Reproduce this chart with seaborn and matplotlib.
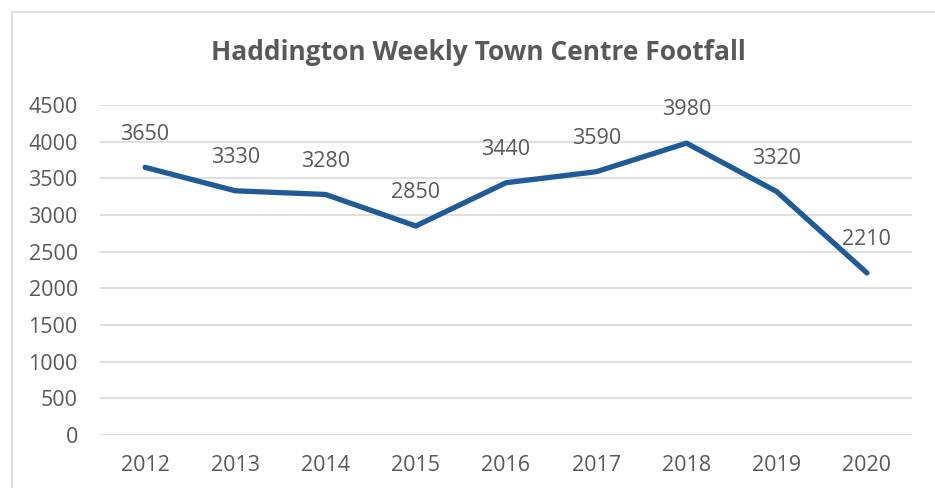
import pandas as pd
import matplotlib.pyplot as plt
import seaborn as sns
from matplotlib.patches import Rectangle

years = ["2012", "2013", "2014", "2015", "2016", "2017", "2018", "2019", "2020"]
footfall = [3650, 3330, 3280, 2850, 3440, 3590, 3980, 3320, 2210]
y_ticks = [0, 500, 1000, 1500, 2000, 2500, 3000, 3500, 4000, 4500]

df = pd.DataFrame({"year": years, "footfall": footfall})

sns.set_theme(style="white")
plt.rcParams['font.family'] = ['Open Sans', 'DejaVu Sans']
text_col = "#595959"
grid_col = "#d9d9d9"
line_col = "#1f5b98"

fig = plt.figure(figsize=(9.35, 4.88), dpi=100)
fig.patch.set_facecolor("white")
# chart border (cropped at right/bottom like the reference)
fig.patches.append(Rectangle((12 / 935, -0.1), 1.2, (488 - 12) / 488 + 0.1,
                             transform=fig.transFigure, fill=False,
                             edgecolor=grid_col, linewidth=1.2))

ax = fig.add_axes([100 / 935, 53 / 488, 812 / 935, 330 / 488])
x = list(range(len(years)))
sns.lineplot(x=x, y=df["footfall"], ax=ax, color=line_col, linewidth=3.8,
             solid_capstyle="round", solid_joinstyle="round")

# data labels above each point
for xi, v in zip(x, footfall):
    ax.annotate(str(v), (xi, v), xytext=(0, 24), textcoords="offset points",
                ha="center", va="center", fontsize=15.5, color=text_col)

ax.set_xlim(-0.5, len(years) - 0.5)
ax.set_ylim(0, 4500)
ax.set_yticks(y_ticks)
ax.set_xticks(x)
ax.set_xticklabels(years)
ax.yaxis.grid(True, color=grid_col, linewidth=1.2)
ax.set_axisbelow(True)
for s in ax.spines.values():
    s.set_visible(False)
ax.tick_params(axis="both", length=0, labelsize=15.5, labelcolor=text_col)
ax.tick_params(axis="y", pad=16)
ax.tick_params(axis="x", pad=14.5)
ax.set_xlabel("")
ax.set_ylabel("")

fig.text(478 / 935, 1 - 53 / 488, "Haddington Weekly Town Centre Footfall",
         ha="center", va="center", fontsize=19, fontweight="bold", color=text_col)

plt.savefig("out.png", dpi=100)
